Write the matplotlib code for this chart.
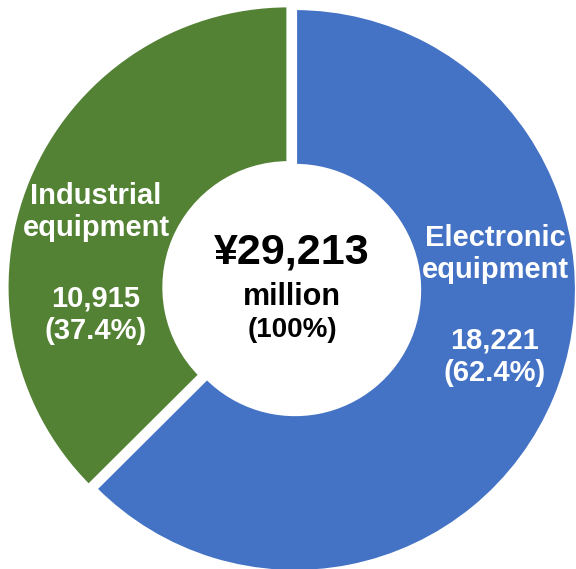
import matplotlib.pyplot as plt

segments = ["Electronic\nequipment", "Industrial\nequipment"]
values = [18221, 10915]
shares = ["62.4%", "37.4%"]
colors = ["#4472C4", "#548235"]
total_text = "¥29,213"

W, H = 576, 569
CX, CY, R = 295, 290, 282


def px(x, y):
    return (x - CX) / R, (CY - y) / R


plt.rcParams['font.family'] = ['Liberation Sans', 'DejaVu Sans']

fig = plt.figure(figsize=(W / 100, H / 100), dpi=100)
ax = fig.add_axes([0, 0, 1, 1])

ax.pie(values, colors=colors, startangle=90, counterclock=False,
       explode=[0, 0.025], radius=1.0,
       wedgeprops=dict(width=0.56, edgecolor='white', linewidth=3))

ax.set_aspect('equal')
ax.set_xlim(-CX / R, (W - CX) / R)
ax.set_ylim(-(H - CY) / R, CY / R)
ax.axis('off')

# center text
ax.text(*px(292, 252), total_text, ha='center', va='center',
        fontsize=31, fontweight='bold', color='black')
ax.text(*px(292, 297), "million", ha='center', va='center',
        fontsize=22, fontweight='bold', color='black')
ax.text(*px(292, 330), "(100%)", ha='center', va='center',
        fontsize=20, fontweight='bold', color='black')

# segment labels
label_pos = [(495, 254), (96, 212)]
value_pos = [(495, 357), (96, 315)]
for name, v, s, lp, vp in zip(segments, values, shares, label_pos, value_pos):
    ax.text(*px(*lp), name, ha='center', va='center', fontsize=21,
            fontweight='bold', color='white', linespacing=1.2)
    ax.text(*px(*vp), f"{v:,}\n({s})", ha='center', va='center', fontsize=21,
            fontweight='bold', color='white', linespacing=1.2)

fig.savefig("out.png", dpi=100)
